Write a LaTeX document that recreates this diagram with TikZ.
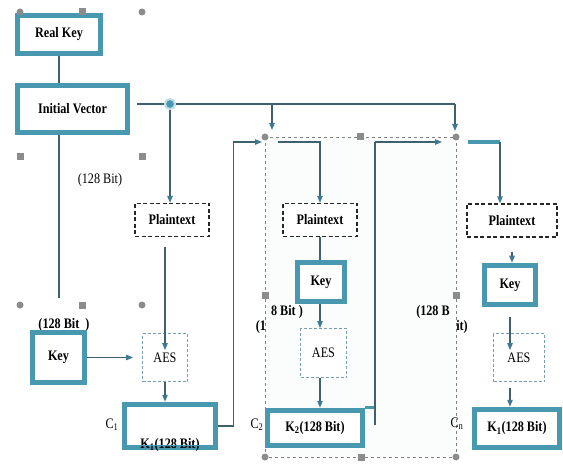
\documentclass[tikz,border=0pt]{standalone}
\usepackage{fontspec}
\setmainfont{Liberation Serif}[FakeStretch=0.84]
\usetikzlibrary{arrows.meta, calc, positioning}

\definecolor{tealc}{RGB}{72,153,176}
\definecolor{linec}{RGB}{62,96,112}
\definecolor{arrc}{RGB}{64,122,146}
\definecolor{handlec}{RGB}{140,140,140}
\definecolor{aesc}{RGB}{118,160,176}
\newcommand{\boxfont}{\fontsize{14.5}{16}\selectfont}

\begin{document}
\begin{tikzpicture}[
    x=1pt, y=-1pt,
    % --- Box styles ---
    thickbox/.style={draw=tealc, line width=5pt, fill=white, inner sep=0pt,
        font=\boxfont\bfseries},
    keybox/.style={draw=tealc, line width=4.5pt, fill=white, inner sep=0pt,
        font=\boxfont\bfseries},
    ptbox/.style={draw=black!85, line width=1.3pt, dash pattern=on 4pt off 2.5pt,
        fill=white, inner sep=0pt, minimum height=33pt, font=\boxfont\bfseries},
    aesbox/.style={draw=aesc, line width=0.8pt, dash pattern=on 3pt off 2pt,
        fill=white, inner sep=0pt, font=\boxfont},
    % --- Text styles ---
    txt/.style={inner sep=0pt, font=\boxfont},
    txtb/.style={inner sep=0pt, font=\boxfont\bfseries},
    % --- Connector styles ---
    line/.style={draw=linec, line width=1.1pt},
    arr/.style={draw=linec, line width=1.1pt,
        -{Triangle[length=7pt, width=5.5pt, color=arrc]}},
]
\useasboundingbox (0,0) rectangle (563,468);

% =============================================
%  Selected group (second block)
% =============================================
\draw[gray, line width=0.6pt, dashed, fill=tealc!2] (265,137) rectangle (456,457);

% =============================================
%  Key source
% =============================================
\node[thickbox, minimum width=83pt, minimum height=38pt] (realkey) at (59,34.5) {Real Key};
\node[thickbox, minimum width=110pt, minimum height=47pt] (iv) at (72.5,109) {Initial Vector};
\node[circle, fill=tealc, draw=tealc!35, line width=2pt, inner sep=0pt,
      minimum size=10pt] (dot) at (170,104) {};

% =============================================
%  Labels
% =============================================
\node[txt]  (bitiv) at (100,180) {(128 Bit)};
\node[txtb] (bitk1) at (64,325) {(128 Bit\ \ )};
\node[txtb] (bit8)  at (287,312) {8 Bit )};
\node[txtb] (bit1)  at (261,327) {(1};
\node[txtb] (bitb)  at (433,312) {(128 B};
\node[txtb] (bitit) at (462,327) {it)};
\node[txt]  (c1) at (112,425) {C\textsubscript{1}};
\node[txt]  (c2) at (257,425) {C\textsubscript{2}};
\node[txt]  (cn) at (457,424) {C\textsubscript{n}};

% =============================================
%  Block 1
% =============================================
\node[ptbox, minimum width=74pt] (pt1) at (172,220) {Plaintext};
\node[keybox, minimum width=53pt, minimum height=51pt] (key1) at (58.5,357.5) {Key};
\node[aesbox, minimum width=45pt, minimum height=48pt] (aes1) at (165,357.5) {AES};
\node[keybox, minimum width=92pt, minimum height=44pt] (k1) at (170,426) {};
\node[txtb, above=-1.5pt of k1.south] (k1t) {K\textsubscript{1}(128 Bit)};

% =============================================
%  Block 2
% =============================================
\node[ptbox, minimum width=74pt] (pt2) at (320,220) {Plaintext};
\node[keybox, minimum width=48pt, minimum height=40pt] (key2) at (321,282) {Key};
\node[aesbox, minimum width=46pt, minimum height=49pt] (aes2) at (323.5,353) {AES};
\node[keybox, minimum width=96pt, minimum height=36pt] (k2) at (315,428) {K\textsubscript{2}(128 Bit)};

% =============================================
%  Block n
% =============================================
\node[ptbox, minimum width=90pt] (pt3) at (512,220.5) {Plaintext};
\node[keybox, minimum width=52pt, minimum height=40pt] (key3) at (510,285) {Key};
\node[aesbox, minimum width=51pt, minimum height=48pt] (aes3) at (519,357.5) {AES};
\node[keybox, minimum width=86pt, minimum height=39pt] (k3) at (517,428.5) {K\textsubscript{1}(128 Bit)};

% inner rims of the key boxes
\foreach \n in {key1,key2,key3,k1,k2,k3}
  \draw[tealc, line width=1pt] ([shift={(5pt,5pt)}]\n.south west)
      rectangle ([shift={(-5pt,-5pt)}]\n.north east);

% =============================================
%  Connections
% =============================================
\coordinate (ivend) at (59,298);
\coordinate (br) at (272,104);
\coordinate (tr) at (455,104);
\coordinate (j1) at (262,142);
\coordinate (j2) at (278,142);
\coordinate (c2top) at (375,425);
\coordinate (jn) at (442,142);
\coordinate (b3l) at (468,142);
\coordinate (b3r) at (500,142);

\draw[line] (realkey.south) -- (realkey.south |- iv.north);
\draw[line] (iv.south -| realkey.south) -- (ivend);
\draw[line, shorten <=7pt] (iv.east |- dot) -- (dot);
\draw[line] (dot) -- (tr);
\draw[arr] (br) -- ++(0,-26pt);
\draw[arr] (tr) -- ++(0,-27pt);
\draw[arr] (dot) -- (dot |- pt1.north);

% block 1
\draw[arr, shorten >=9pt] (key1.east) -- (aes1.west);
\draw[arr, shorten <=10pt] (aes1.north |- pt1.south) -- ([yshift=-17pt]aes1.north);
\draw[arr] (aes1) -- (aes1 |- k1.north);
\draw[line] (k1.east) -- ++(15pt,0) coordinate (k1r) -- (k1r |- j1);
\draw[arr] (k1r |- j1) -- (j1);

% block 2
\draw[arr] (j2) -| (pt2.north);
\draw[line] (pt2) -- (pt2 |- key2.north);
\draw[arr] (key2.south -| pt2) -- (pt2 |- aes2.north);
\draw[arr] (aes2.south -| pt2) -- (pt2 |- k2.north);
\draw[tealc, line width=3pt] (k2.north east) -- (c2top |- k2.north east);
\draw[line] (c2top) -- (c2top |- jn);
\draw[arr] (c2top |- jn) -- (jn);

% block n
\draw[tealc, line width=4pt] (b3l) -- (b3r);
\draw[arr] (b3r) -- (b3r |- pt3.north);
\draw[arr, shorten <=14pt] (pt3.south) -- (pt3.south |- key3.north);
\draw[arr, shorten <=10pt] (key3.south) -- ([yshift=-17pt]key3.south |- aes3.north);
\draw[arr, shorten <=6pt] (key3.south |- aes3.south) -- (key3.south |- k3.north);

% =============================================
%  Selection handles
% =============================================
\foreach \hx/\hy in {20/12,142/12,20/305,142/305,265/137,456/137,265/457,456/457}
  \fill[handlec] (\hx,\hy) circle (3.5pt);
\foreach \hx/\hy in {82/12,20/157,142/157,82/305,360/137,265/295,456/295,361/457}
  \fill[handlec] (\hx,\hy) ++(-3.5pt,-3.5pt) rectangle ++(7pt,7pt);

\end{tikzpicture}
\end{document}
